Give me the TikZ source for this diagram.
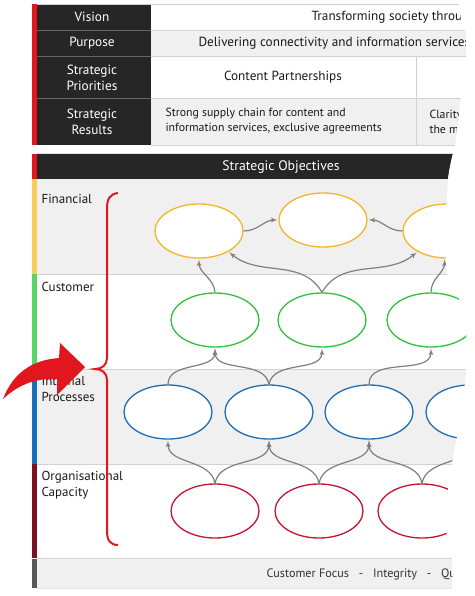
\documentclass[tikz,border=0pt]{standalone}
\usepackage{fontspec}
\setmainfont{PT Sans}
\usetikzlibrary{arrows,shapes.geometric}

\definecolor{strategyred}{HTML}{E2161F}
\definecolor{darkcell}{HTML}{262626}
\definecolor{rowgray}{HTML}{F0F0F0}
\definecolor{lineg}{HTML}{D2D2D2}
\definecolor{finbar}{HTML}{F8CD5E}
\definecolor{cusbar}{HTML}{56D664}
\definecolor{intbar}{HTML}{1B6FB8}
\definecolor{orgbar}{HTML}{7B1222}
\definecolor{footbar}{HTML}{585858}
\definecolor{finline}{HTML}{F0B628}
\definecolor{cusline}{HTML}{2EC23C}
\definecolor{intline}{HTML}{1F6DB3}
\definecolor{orgline}{HTML}{C2142F}
\definecolor{linkgray}{HTML}{7F7F7F}

\tikzstyle{objective}=[ellipse,draw,fill=white,line width=1.3pt,minimum width=88pt,minimum height=54pt,inner sep=0pt]
\tikzstyle{line} = [draw, -latex', linkgray, line width=1.2pt, shorten >=1pt]
\tikzstyle{rowlabel}=[text=white,align=center,font=\fontsize{13.3}{15.5}\selectfont]
\tikzstyle{celltext}=[text=black!90,font=\fontsize{13.2}{15}\selectfont]
\tikzstyle{smalltext}=[text=black!90,align=left,font=\fontsize{11.8}{15}\selectfont]
\tikzstyle{perspective}=[text=black!90,align=left,font=\fontsize{13}{16}\selectfont]

\begin{document}
\begin{tikzpicture}[x=1pt,y=1pt]
  \useasboundingbox (0,0) rectangle (474,-596);

  % --- top table ---
  \fill[rowgray] (151,-31) rectangle (470,-56);
  \fill[rowgray] (151,-99) rectangle (470,-145);
  \fill[darkcell] (37,-4) rectangle (151,-145);
  \fill[strategyred] (32,-4) rectangle (37,-145);
  \draw[lineg] (37,-4) -- (470,-4);
  \draw[lineg] (151,-30.5) -- (470,-30.5);
  \draw[lineg] (151,-56.5) -- (470,-56.5);
  \draw[lineg] (151,-98.5) -- (470,-98.5);
  \draw[lineg] (151,-145.5) -- (470,-145.5);
  \draw[lineg] (416.5,-57) -- (416.5,-145);
  \draw[black!60] (37,-30.5) -- (151,-30.5);
  \draw[black!60] (37,-56.5) -- (151,-56.5);
  \draw[black!60] (37,-98.5) -- (151,-98.5);

  \node[rowlabel] (vision) at (92,-17) {Vision};
  \node[rowlabel] (purpose) at (92,-43) {Purpose};
  \node[rowlabel] (priorities) at (92,-78) {Strategic\\Priorities};
  \node[rowlabel] (results) at (92,-122) {Strategic\\Results};

  \node[celltext,anchor=west] (visiontext) at (308,-17) {Transforming society throu};
  \node[celltext,anchor=west] (purposetext) at (195,-43) {Delivering connectivity and information services};
  \node[celltext] (priority1) at (283,-77) {Content Partnerships};
  \node[smalltext,anchor=west] (result1) at (162,-121.5) {Strong supply chain for content and\\information services, exclusive agreements};
  \node[smalltext,anchor=west] (result2) at (426,-121.5) {Clarity\\the m};

  % --- strategy map bands ---
  \fill[darkcell] (37,-154) -- (453,-154) -- (448,-179) -- (37,-179) -- cycle;
  \fill[strategyred] (32,-154) rectangle (37,-179);
  \fill[rowgray] (37,-179) rectangle (470,-274);
  \fill[rowgray] (37,-369) rectangle (470,-464);
  \fill[rowgray] (37,-559) rectangle (470,-588);
  \fill[finbar] (32,-179) rectangle (37,-274);
  \fill[cusbar] (32,-274) rectangle (37,-369);
  \fill[intbar] (32,-369) rectangle (37,-464);
  \fill[orgbar] (32,-464) rectangle (37,-558);
  \fill[footbar] (32,-559) rectangle (37,-588);
  \draw[lineg] (37,-274) -- (470,-274);
  \draw[lineg] (37,-369) -- (470,-369);
  \draw[lineg] (37,-464) -- (470,-464);
  \draw[lineg] (37,-558.5) -- (470,-558.5);
  \draw[black!10] (37,-588.5) -- (470,-588.5);

  \node[rowlabel,font=\fontsize{13.8}{16}\selectfont] (objectives) at (281,-167) {Strategic Objectives};
  \node[perspective,anchor=west] (financial) at (38,-199) {Financial};
  \node[perspective,anchor=west] (customer) at (38,-287) {Customer};
  \node[perspective,anchor=west] (internal) at (38,-389) {Internal\\Processes};
  \node[perspective,anchor=west] (capacity) at (38,-485) {Organisational\\Capacity};
  \node[celltext,anchor=west,text=black!80,font=\fontsize{12.2}{14}\selectfont] (values) at (263,-574) {Customer Focus \ \ - \ \ Integrity \ \ - \ \ Qu};

  % --- objectives ---
  \node[objective,draw=finline] (fin1) at (199,-231) {};
  \node[objective,draw=finline] (fin2) at (323,-220) {};
  \node[objective,draw=finline] (fin3) at (447,-231) {};
  \node[objective,draw=cusline] (cus1) at (215,-320) {};
  \node[objective,draw=cusline] (cus2) at (322,-320) {};
  \node[objective,draw=cusline] (cus3) at (431,-320) {};
  \node[objective,draw=intline] (int1) at (168,-412) {};
  \node[objective,draw=intline] (int2) at (269,-412) {};
  \node[objective,draw=intline] (int3) at (369,-412) {};
  \node[objective,draw=intline] (int4) at (470,-412) {};
  \node[objective,draw=orgline] (org1) at (215,-511) {};
  \node[objective,draw=orgline] (org2) at (319,-511) {};
  \node[objective,draw=orgline] (org3) at (422,-511) {};

  % --- cause and effect links ---
  \path [line] (fin1.east) to[out=0,in=180] (fin2.west);
  \path [line] (fin3.west) to[out=180,in=0] (fin2.east);
  \path [line] (cus1.north) to[out=95,in=-90] (fin1.south);
  \path [line] (cus2.north) to[out=120,in=-40] (fin1.-35);
  \path [line] (cus2.north) to[out=60,in=220] (fin3.-145);
  \path [line] (cus3.north) to[out=90,in=-90] (fin3.-95);
  \path [line] (int1.north) to[out=90,in=-90] (cus1.south);
  \path [line] (int2.north) to[out=100,in=-90] (cus1.south);
  \path [line] (int2.north) to[out=80,in=-90] (cus2.south);
  \path [line] (int3.north) to[out=90,in=-90] (cus3.south);
  \path [line] (org1.north) to[out=100,in=-90] (int1.south);
  \path [line] (org1.north) to[out=80,in=-90] (int2.south);
  \path [line] (org2.north) to[out=100,in=-90] (int2.south);
  \path [line] (org2.north) to[out=80,in=-90] (int3.south);
  \path [line] (org3.north) to[out=100,in=-90] (int3.south);
  \path [line] (org3.north) to[out=80,in=-90] (int4.south);

  % brace and pointer
  \draw[strategyred,line width=2pt] (118,-193) .. controls (110,-194) and (107,-199) .. (107,-208) -- (107,-358)
     .. controls (107,-365) and (102,-369) .. (95,-369) .. controls (102,-369) and (107,-373) .. (107,-380)
     -- (107,-531) .. controls (107,-540) and (110,-545) .. (118,-545);
  \fill[strategyred] (3,-399) .. controls (13,-373) and (32,-360) .. (59,-358) -- (60,-343) -- (85,-367)
     -- (57,-395) -- (57,-379) .. controls (35,-378) and (18,-385) .. (3,-399) -- cycle;

  % cut-off right edge
  \fill[white] (459,10) -- (459,-4) -- (462,-30) -- (466,-31) -- (466,-57) -- (455,-146)
     -- (455,-150) -- plot[smooth] coordinates {(453,-153) (448,-179) (446,-230) (447,-272) (458,-296) (466,-330) (466,-372) (460,-420) (452,-463) (447,-500) (447,-540) (452,-560) (452,-610)}
     -- (560,-610) -- (560,10) -- cycle;
\end{tikzpicture}
\end{document}
